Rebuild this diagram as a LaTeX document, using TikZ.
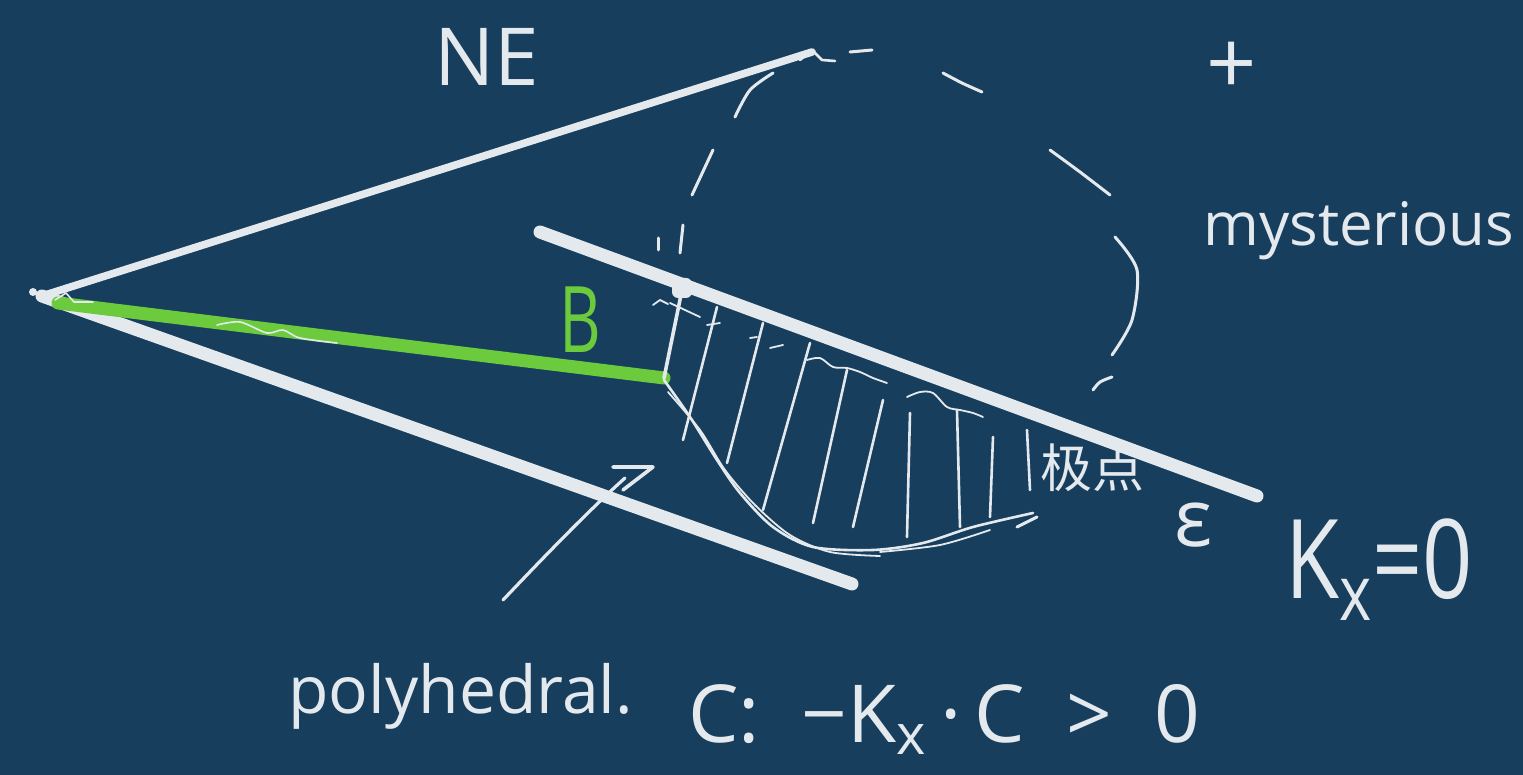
\documentclass[tikz,border=0pt]{standalone}
\usepackage{fontspec}
\setmainfont{Open Sans}
\newfontfamily\cjk{Noto Sans CJK SC}
\definecolor{bg}{HTML}{183E5D}
\definecolor{chalk}{HTML}{E4E9EE}
\definecolor{hl}{HTML}{6CCB3C}
\begin{document}
\begin{tikzpicture}[x=0.5pt,y=-0.5pt,
  heavy/.style={draw=chalk, line width=6.5pt, line cap=round},
  medium/.style={draw=chalk, line width=3.8pt, line cap=round},
  pen/.style={draw=chalk, line width=1.3pt, line cap=round, line join=round},
  dashpen/.style={draw=chalk, line width=1.5pt, line cap=round},
  greenpen/.style={draw=hl, line width=6.5pt, line cap=round},
  lbl/.style={text=chalk, inner sep=0pt}]
\fill[bg] (0,0) rectangle (1523,775);
\useasboundingbox (0,0) rectangle (1523,775);

% key points
\coordinate (apex) at (42,296);
\coordinate (ne) at (812,52);
\coordinate (lowend) at (852,584);
\coordinate (kstart) at (540,232);
\coordinate (kend) at (1257,496);
\coordinate (top) at (682,290);
\coordinate (bend) at (664,378);
\coordinate (gstart) at (58,303);

% cone
\fill[chalk] (33,292) circle (4);
\draw[medium] (apex) -- (ne);
\draw[heavy] (apex) -- (lowend);
\draw[heavy] (kstart) -- (kend);
\draw[pen] (800,60) -- (812,50) -- (822,60) -- (835,61);

% green segment
\draw[greenpen] (gstart) -- (bend);
\draw[pen, line width=0.8pt] (55,300) -- (66,293) -- (74,302) -- (93,302);
\draw[pen, line width=0.8pt] plot[smooth] coordinates {(217,325) (240,322) (267,333) (283,330) (300,338) (337,343)};

% white marker on the line
\fill[chalk, rounded corners=3] (672,278) rectangle (692,298);

% dashed circle, hand drawn
\draw[dashpen] (850,52) -- (872,50);
\draw[dashpen] plot[smooth] coordinates {(943,73) (962,83) (982,92)};
\draw[dashpen] plot[smooth] coordinates {(1050,150) (1080,172) (1110,195)};
\draw[dashpen] plot[smooth] coordinates {(1115,237) (1137,270) (1132,320) (1112,355)};
\draw[dashpen] plot[smooth] coordinates {(1093,390) (1100,382) (1112,377)};
\draw[dashpen] plot[smooth] coordinates {(773,73) (750,90) (735,117)};
\draw[dashpen] (713,150) -- (692,195);
\draw[dashpen] (683,225) -- (680,253);
\draw[dashpen] (658,238) -- (658,250);
\draw[dashpen] (1017,527) -- (1037,517);

% polyhedral region boundary
\draw[pen, line width=1.8pt] (top) -- (bend);
\draw[pen] plot[smooth] coordinates {(664,380) (690,417) (717,460) (740,493) (773,527) (813,547) (873,550) (923,543) (973,527) (1033,513)};
\draw[pen, line width=0.9pt] plot[smooth] coordinates {(668,392) (700,430) (725,470) (755,505) (790,535) (830,552) (880,556)};
\draw[pen, line width=0.9pt] plot[smooth] coordinates {(880,552) (940,545) (990,530)};

% hatching
\draw[pen] (717,307) -- (683,440);
\draw[pen] (763,323) -- (727,463);
\draw[pen] (810,343) -- (763,510);
\draw[pen] (847,370) -- (813,523);
\draw[pen] (883,400) -- (853,527);
\draw[pen] (910,413) -- (907,537);
\draw[pen] (957,410) -- (960,527);
\draw[pen] (993,437) -- (990,517);
\draw[pen] (1027,430) -- (1030,490);
\draw[pen, line width=0.9pt] (653,305) -- (660,300) -- (668,304);
\draw[pen, line width=0.9pt] (670,303) -- (700,317);
\draw[pen, line width=0.9pt] (707,325) -- (720,323);
\draw[pen, line width=0.9pt] (750,338) -- (757,337);
\draw[pen, line width=0.9pt] (770,348) -- (783,345);
\draw[pen, line width=0.9pt] plot[smooth] coordinates {(807,360) (820,358) (833,367) (847,368) (860,372) (873,378) (887,383)};
\draw[pen, line width=0.9pt] plot[smooth] coordinates {(907,397) (920,392) (933,393) (947,407) (960,410) (973,413) (983,417)};

% labels
\node[lbl, font=\fontsize{40}{40}\selectfont] (ne-label) at (487,57) {NE};
\node[lbl, font=\fontsize{44}{44}\selectfont] (plus) at (1232,68) {+};
\node[lbl, anchor=base west, font=\fontsize{30}{30}\selectfont] (myst) at (1203,246) {mysterious};
\node[text=hl, inner sep=0pt, font=\fontsize{46}{46}\selectfont] (beta) at (580,320) {\scalebox{0.7}[1]{B}};
\node[lbl, font=\cjk\fontsize{26}{26}\selectfont] (pole) at (1092,468) {极点};
\node[lbl, font=\fontsize{40}{40}\selectfont] (eps) at (1193,525) {ε};
\node[lbl, anchor=base west, font=\fontsize{50}{50}\selectfont] (kx) at (1285,598) {\scalebox{0.88}[1.1]{K\textsubscript{x}=0}};
\node[lbl, anchor=base west, font=\fontsize{33}{33}\selectfont] (poly) at (288,713) {polyhedral.};
\node[lbl, anchor=base west, font=\fontsize{40}{40}\selectfont] (cond) at (688,742) {C:\ \ −K\textsubscript{x}\,·\,C\ \ >\ \ 0};

% arrow from label to region
\coordinate (arrtail) at (503,600);
\coordinate (arrtip) at (653,467);
\draw[pen, line width=1.6pt] (arrtail) .. controls (560,540) and (595,505) .. (625,478);
\draw[pen, line width=1.8pt] (613,467) -- (arrtip) -- (623,490);
\end{tikzpicture}
\end{document}
